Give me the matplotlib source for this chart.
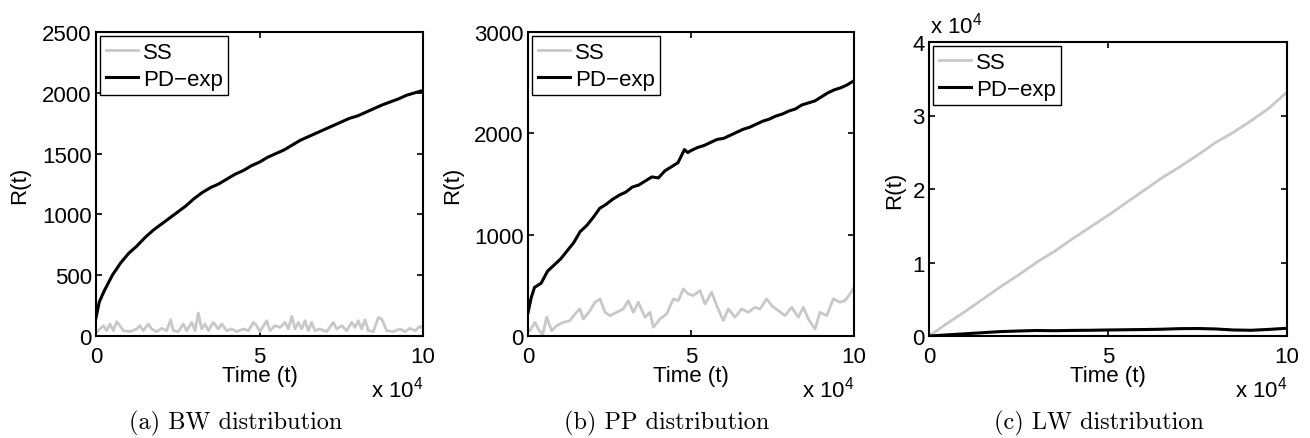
import matplotlib
matplotlib.use("Agg")
import matplotlib.pyplot as plt

plt.rcParams['font.family'] = ['Liberation Sans', 'DejaVu Sans']
plt.rcParams['mathtext.fontset'] = 'custom'
plt.rcParams['mathtext.rm'] = 'Liberation Sans'

# ---------------- data ----------------
series_labels = ['SS', 'PD\u2212exp']
captions = ['(a) BW distribution', '(b) PP distribution', '(c) LW distribution']

# (a) BW
bw_pd_t = [0, 1000, 2500, 5000, 7500, 10000, 12500, 15000, 17500, 20000, 22500, 25000,
           27500, 30000, 32500, 35000, 37500, 40000, 42500, 45000, 47500, 50000, 52500,
           55000, 57500, 60000, 62500, 65000, 67500, 70000, 72500, 75000, 77500, 80000,
           82500, 85000, 87500, 90000, 92500, 95000, 97500, 100000]
bw_pd_v = [150, 280, 370, 500, 600, 680, 740, 810, 870, 920, 970, 1020, 1070, 1130, 1180,
           1220, 1250, 1290, 1330, 1360, 1400, 1430, 1470, 1500, 1530, 1570, 1610, 1640,
           1670, 1700, 1730, 1760, 1790, 1810, 1840, 1870, 1900, 1925, 1950, 1980, 2000, 2020]
bw_ss_t = [0, 710, 2240, 3260, 4280, 5300, 6320, 7340, 8360, 10400, 12440, 13460, 14480,
           16000, 17020, 18550, 20080, 21610, 22830, 23650, 25180, 26710, 27730, 29260,
           30280, 31290, 32310, 33330, 34350, 35880, 37410, 38430, 39960, 41490, 43020,
           45060, 46590, 48110, 49130, 50150, 52190, 53210, 54740, 56270, 57800, 58820,
           59840, 60860, 61880, 62900, 63910, 64930, 65950, 66970, 68500, 70540, 72580,
           73600, 75130, 76660, 78190, 79200, 80220, 81240, 82260, 83280, 84810, 86340,
           87360, 88890, 90930, 92970, 94500, 96020, 97550, 99080, 100000]
bw_ss_v = [30, 44, 85, 44, 99, 44, 118, 85, 44, 36, 58, 85, 44, 99, 58, 36, 63, 44, 134, 44,
           36, 99, 44, 112, 44, 189, 58, 99, 44, 112, 58, 99, 44, 58, 36, 58, 44, 112, 85,
           36, 126, 44, 85, 71, 112, 58, 162, 58, 112, 58, 126, 44, 112, 44, 58, 36, 112,
           58, 85, 44, 112, 71, 126, 58, 134, 44, 36, 153, 140, 44, 36, 58, 36, 63, 44, 79, 63]

# (b) PP
pp_pd_t = [0, 1000, 2000, 4000, 6000, 8000, 10000, 12000, 14000, 16000, 18000, 20000,
           22000, 24000, 26000, 28000, 30000, 32000, 34000, 36000, 38000, 40000, 42000,
           44000, 46000, 48000, 49000, 50000, 52000, 54000, 56000, 58000, 60000, 62000,
           64000, 66000, 68000, 70000, 72000, 74000, 76000, 78000, 80000, 82000, 84000,
           86000, 88000, 90000, 92000, 94000, 96000, 98000, 100000]
pp_pd_v = [230, 380, 480, 520, 640, 700, 760, 840, 920, 1030, 1090, 1170, 1260, 1300, 1350,
           1390, 1420, 1470, 1490, 1530, 1570, 1560, 1630, 1670, 1710, 1840, 1810, 1830,
           1860, 1880, 1910, 1940, 1950, 1980, 2010, 2040, 2060, 2090, 2120, 2140, 2170,
           2190, 2220, 2240, 2280, 2300, 2320, 2360, 2400, 2430, 2450, 2480, 2520]
pp_ss_t = [0, 610, 2150, 3170, 4500, 5730, 7260, 8790, 10840, 12880, 14420, 15950, 16970,
           19020, 20550, 22090, 23620, 25150, 27200, 29240, 30780, 32310, 33840, 35890,
           37420, 38450, 40490, 42540, 44580, 46110, 47650, 49180, 50720, 52760, 54290,
           56340, 57870, 59920, 61450, 63500, 65540, 67590, 69630, 71170, 73210, 74740,
           76790, 78830, 80880, 82920, 84460, 85990, 88040, 89570, 91620, 93660, 95710,
           97240, 98770, 100000]
pp_ss_v = [60, 53, 135, 69, 10, 185, 53, 102, 135, 152, 218, 267, 168, 250, 333, 366, 234,
           201, 234, 267, 349, 234, 333, 185, 234, 86, 168, 218, 366, 349, 465, 415, 399,
           448, 316, 432, 300, 152, 267, 185, 267, 234, 283, 267, 366, 300, 250, 201, 283,
           185, 283, 168, 69, 234, 201, 366, 333, 349, 415, 481]

# (c) LW
lw_ss_t = [0, 5000, 10000, 15000, 20000, 25000, 30000, 35000, 40000, 45000, 50000, 55000,
           60000, 65000, 70000, 75000, 80000, 85000, 90000, 95000, 100000]
lw_ss_v = [0, 1700, 3300, 5000, 6700, 8300, 10000, 11500, 13200, 14800, 16400, 18100,
           19800, 21500, 23000, 24600, 26300, 27700, 29300, 31000, 33200]
lw_pd_t = [0, 5000, 10000, 15000, 20000, 25000, 30000, 35000, 40000, 45000, 50000, 55000,
           60000, 65000, 70000, 75000, 80000, 85000, 90000, 95000, 100000]
lw_pd_v = [0, 150, 300, 450, 600, 680, 750, 720, 760, 780, 820, 850, 880, 920, 1000, 1020,
           960, 820, 780, 900, 1050]

panels = [
    dict(ss=(bw_ss_t, bw_ss_v), pd=(bw_pd_t, bw_pd_v), yticks=[0, 500, 1000, 1500, 2000, 2500],
         ylabels=['0', '500', '1000', '1500', '2000', '2500'], ylim=(0, 2500)),
    dict(ss=(pp_ss_t, pp_ss_v), pd=(pp_pd_t, pp_pd_v), yticks=[0, 1000, 2000, 3000],
         ylabels=['0', '1000', '2000', '3000'], ylim=(0, 3000)),
    dict(ss=(lw_ss_t, lw_ss_v), pd=(lw_pd_t, lw_pd_v), yticks=[0, 10000, 20000, 30000, 40000],
         ylabels=['0', '1', '2', '3', '4'], ylim=(0, 40000)),
]
xticks = [0, 50000, 100000]
xticklabels = ['0', '5', '10']

# ---------------- layout ----------------
W, H = 1310, 439
fig = plt.figure(figsize=(W / 100, H / 100), dpi=100)

# axes boxes in pixels: left, top, right, bottom
boxes = [(96, 33, 423, 337), (528, 33, 854, 337), (929, 43, 1287, 337)]
ylabel_x = [20, 453, 895]
caption_x = [236, 667, 1099]

FS = 16
for i, (p, (l, t, r, b)) in enumerate(zip(panels, boxes)):
    ax = fig.add_axes([l / W, 1 - b / H, (r - l) / W, (b - t) / H])
    ax.plot(p['ss'][0], p['ss'][1], color='#c8c8c8', lw=2.0, label=series_labels[0])
    ax.plot(p['pd'][0], p['pd'][1], color='black', lw=2.2, label=series_labels[1])
    ax.set_xlim(0, 100000)
    ax.set_ylim(*p['ylim'])
    ax.set_xticks(xticks)
    ax.set_xticklabels(xticklabels)
    ax.set_yticks(p['yticks'])
    ax.set_yticklabels(p['ylabels'])
    ax.tick_params(direction='in', top=True, right=True, length=4, width=1.2,
                   labelsize=FS)
    ax.tick_params(axis='x', pad=7)
    ax.tick_params(axis='y', pad=3)
    for s in ax.spines.values():
        s.set_linewidth(1.5)
    ax.set_xlabel('Time (t)', fontsize=FS)
    ax.xaxis.set_label_coords(0.5, (b - 377) / (b - t))
    ax.xaxis.label.set_va('center')
    ax.set_ylabel('R(t)', fontsize=FS)
    ax.yaxis.set_label_coords((ylabel_x[i] - l) / (r - l), 0.5)
    ax.yaxis.label.set_va('center')
    leg = ax.legend(loc='upper left', fontsize=FS, frameon=True, fancybox=False,
                    framealpha=1, edgecolor='black', borderaxespad=0.2, borderpad=0.25,
                    handlelength=1.45, handletextpad=0.2, labelspacing=0.25)
    leg.get_frame().set_linewidth(1.0)
    # x-axis exponent
    fig.text(r / W, 1 - 390 / H, r'x $\mathregular{10^4}$', fontsize=FS,
             ha='right', va='center')
    fig.text(caption_x[i] / W, 1 - 423 / H, captions[i], fontsize=17.5,
             family='cmr10', ha='center', va='center')

# y-axis exponent for panel (c)
fig.text(930 / W, 1 - 26 / H, r'x $\mathregular{10^4}$', fontsize=FS, ha='left', va='center')

fig.savefig('out.png', dpi=100)
